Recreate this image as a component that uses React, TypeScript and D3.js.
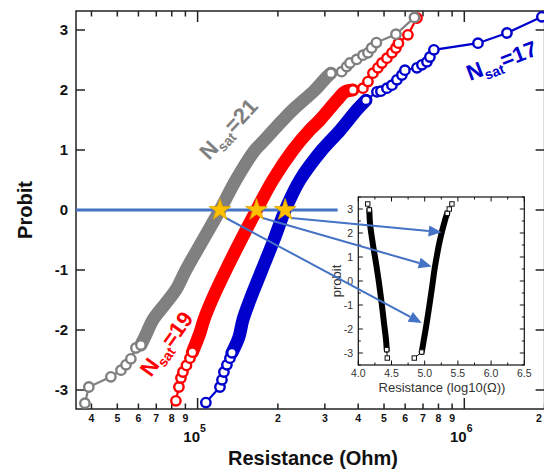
import React from "react";
import * as d3 from "d3";

// ---------- data ----------
// N_sat = 21 (gray)
const grayR = [37800, 39100, 47300, 51600, 53900, 56200, 58700, 61300, 64000, 68000, 76100, 82900, 90400, 104700, 121300, 139200, 164200, 174200, 208800, 227700, 275400, 305300, 316100, 346700, 362000, 372500, 394700, 416700, 435100, 449200, 468200, 554100, 650200];
const grayP = [-3.22, -2.95, -2.78, -2.67, -2.58, -2.48, -2.3, -2.25, -2.08, -1.83, -1.55, -1.33, -1.0, -0.5, 0, 0.5, 1.0, 1.12, 1.5, 1.67, 2.0, 2.22, 2.28, 2.305, 2.39, 2.45, 2.51, 2.58, 2.62, 2.7, 2.79, 2.93, 3.21];
// N_sat = 19 (red)
const redR = [82900, 85100, 86600, 88100, 90800, 93600, 95600, 102000, 105600, 113100, 127700, 145400, 166400, 191500, 227900, 263200, 287500, 333000, 356700, 382200, 416700, 435100, 454300, 474300, 491000, 512700, 535300, 554100, 566200, 614500, 664400];
const redP = [-3.18, -2.95, -2.8, -2.7, -2.59, -2.47, -2.37, -2.05, -1.83, -1.5, -1.0, -0.5, 0, 0.5, 1.0, 1.33, 1.5, 1.83, 1.97, 2.0, 2.03, 2.14, 2.28, 2.37, 2.45, 2.53, 2.62, 2.7, 2.78, 2.92, 3.2];
// N_sat = 17 (blue)
const blueR = [107400, 121300, 123400, 125500, 128800, 132200, 134500, 142800, 147900, 157100, 174200, 193200, 213000, 241900, 292600, 342500, 395700, 427700, 470200, 486700, 512700, 535300, 558900, 583400, 598700, 664400, 693500, 724200, 743000, 769100, 1125000, 1445000, 1954000];
const blueP = [-3.21, -2.95, -2.83, -2.7, -2.58, -2.47, -2.38, -2.12, -1.83, -1.5, -1.0, -0.5, 0, 0.5, 1.0, 1.33, 1.67, 1.83, 1.97, 1.98, 2.03, 2.08, 2.17, 2.25, 2.33, 2.37, 2.42, 2.47, 2.55, 2.67, 2.78, 2.95, 3.22];

// stars at probit 0 (median resistance)
const starR = [121300, 166400, 213000];
const lineEndR = 335000;

// inset (log10 resistance vs probit)
const insetLeftX = [4.142, 4.166, 4.176, 4.217, 4.267, 4.312, 4.352, 4.387, 4.417, 4.428, 4.437];
const insetLeftP = [3.21, 2.96, 2.41, 1.58, 0.74, -0.09, -0.92, -1.75, -2.44, -2.86, -3.21];
const insetRightX = [4.843, 4.955, 4.979, 5.03, 5.105, 5.155, 5.23, 5.306, 5.34, 5.37, 5.41];
const insetRightP = [-3.21, -2.96, -2.58, -1.75, -0.37, 0.6, 1.71, 2.54, 2.82, 3.0, 3.21];
const arrowTargetX = [4.955, 5.105, 5.256];
const arrowTargetP = [-1.75, 0.6, 2.03];

const yTicks = [-3, -2, -1, 0, 1, 2, 3];
const insetXTicks = [4.0, 4.5, 5.0, 5.5, 6.0, 6.5];
const insetYTicks = [-3, -2, -1, 0, 1, 2, 3];

const FONT = "'Liberation Sans', Arial, Helvetica, sans-serif";
const BLUE_LINE = "#4472C4";

export default function App() {
  const x = d3.scaleLog().domain([35000, 2000000]).range([76, 544.6]);
  const y = d3.scaleLinear().domain([-3.3167, 3.3167]).range([409, 11]);
  const L = 76, R = 544.6, T = 11, B = 409;

  const ix = d3.scaleLinear().domain([4, 6.5]).range([358.3, 524.3]);
  const iy = d3.scaleLinear().domain([-3.5, 3.5]).range([365, 197]);

  const line = d3.line<[number, number]>();
  const smooth = d3.line<[number, number]>().curve(d3.curveCatmullRom.alpha(0.5));

  const series = [
    { R: blueR, P: blueP, color: "#0000cc", lo: -2.38, hi: 1.83 },
    { R: redR, P: redP, color: "#ff0000", lo: -2.37, hi: 2.0 },
    { R: grayR, P: grayP, color: "#808080", lo: -2.25, hi: 2.28 },
  ];

  const xt = x.ticks();
  const isDecade = (v: number) => Math.abs(Math.log10(v) - Math.round(Math.log10(v))) < 1e-9;

  const starPath = d3.symbol().type(d3.symbolStar).size(150)() as string;

  const insetMinorX = d3.range(4, 6.5001, 0.25);
  const insetMinorY = d3.range(-3.5, 3.5001, 0.5);

  const insetBranches = [
    { X: insetLeftX, P: insetLeftP, lo: 1, hi: 9 },
    { X: insetRightX, P: insetRightP, lo: 1, hi: 8 },
  ];

  return (
    <div style={{ position: "absolute", left: 0, top: 0 }}>
      <svg width={544} height={472} style={{ display: "block", background: "#fff" }}>
        {/* frame */}
        <rect x={L} y={T} width={R - L} height={B - T} fill="none" stroke="#222" strokeWidth={1.5} />
        {/* x ticks bottom & top */}
        {xt.map((v, i) => {
          const px = x(v);
          const len = isDecade(v) ? 11 : 5.5;
          const lx = px > 538 ? 539 : px;
          return (
            <g key={"xt" + i}>
              <line x1={px} x2={px} y1={B} y2={B - len} stroke="#222" strokeWidth={1.5} />
              <line x1={px} x2={px} y1={T} y2={T + len} stroke="#222" strokeWidth={1.5} />
              {isDecade(v) ? (
                <text x={px - 3} y={441.5} textAnchor="middle" fontFamily={FONT} fontWeight="bold" fontSize={15} fill="#111">
                  10
                  <tspan fontSize={10.5} dy={-10}>{Math.round(Math.log10(v))}</tspan>
                </text>
              ) : (
                <text x={lx} y={421.5} textAnchor="middle" fontFamily={FONT} fontWeight="bold" fontSize={10.5} fill="#111">
                  {String(Math.round(v / Math.pow(10, Math.floor(Math.log10(v)))))}
                </text>
              )}
            </g>
          );
        })}
        {/* y ticks */}
        {yTicks.map((v) => (
          <g key={"yt" + v}>
            <line x1={L} x2={L + 9} y1={y(v)} y2={y(v)} stroke="#222" strokeWidth={1.5} />
            <line x1={R} x2={R - 9} y1={y(v)} y2={y(v)} stroke="#222" strokeWidth={1.5} />
            <text x={68} y={y(v)} dy="0.36em" textAnchor="end" fontFamily={FONT} fontWeight="bold" fontSize={15} fill="#111">
              {String(v)}
            </text>
          </g>
        ))}
        {/* axis titles */}
        <text x={313} y={465} textAnchor="middle" fontFamily={FONT} fontWeight="bold" fontSize={20} fill="#111">
          Resistance (Ohm)
        </text>
        <text transform="translate(32,210) rotate(-90)" textAnchor="middle" fontFamily={FONT} fontWeight="bold" fontSize={20} fill="#111">
          Probit
        </text>

        {/* series */}
        {series.map((s, si) => {
          const pts: [number, number][] = s.R.map((r, i) => [x(r), y(s.P[i])]);
          const band = pts.filter((_, i) => s.P[i] >= s.lo && s.P[i] <= s.hi);
          const tails = pts.filter((_, i) => s.P[i] <= s.lo || s.P[i] >= s.hi);
          return (
            <g key={"s" + si}>
              <path d={line(pts) as string} fill="none" stroke={s.color} strokeWidth={2.2} />
              <path d={smooth(band) as string} fill="none" stroke={s.color} strokeWidth={13} strokeLinecap="round" strokeLinejoin="round" />
              {tails.map((p, i) => (
                <circle key={i} cx={p[0]} cy={p[1]} r={4.7} fill="#fff" stroke={s.color} strokeWidth={2.4} />
              ))}
            </g>
          );
        })}

        {/* horizontal line at probit 0 */}
        <line x1={x(35000)} x2={x(lineEndR)} y1={y(0)} y2={y(0)} stroke={BLUE_LINE} strokeWidth={3} />

        {/* labels */}
        <text transform="translate(209,161) rotate(-47)" fontFamily={FONT} fontWeight="bold" fontSize={22} fill="#808080">
          N<tspan fontSize={14} dy={5}>sat</tspan><tspan dy={-5}>=21</tspan>
        </text>
        <text transform="translate(151,378) rotate(-54)" fontFamily={FONT} fontWeight="bold" fontSize={22} fill="#ff0000">
          N<tspan fontSize={14} dy={5}>sat</tspan><tspan dy={-5}>=19</tspan>
        </text>
        <text transform="translate(470,81) rotate(-21)" fontFamily={FONT} fontWeight="bold" fontSize={22} fill="#0000cc">
          N<tspan fontSize={14} dy={5}>sat</tspan><tspan dy={-5}>=17</tspan>
        </text>

        {/* inset */}
        <g>
          <rect x={ix(4)} y={iy(3.5)} width={ix(6.5) - ix(4)} height={iy(-3.5) - iy(3.5)} fill="#fff" stroke="#111" strokeWidth={1.2} />
          {insetMinorX.map((v, i) => {
            const major = Math.abs(v * 2 - Math.round(v * 2)) < 1e-6;
            const len = major ? 4.5 : 2.5;
            return (
              <g key={"ixm" + i}>
                <line x1={ix(v)} x2={ix(v)} y1={iy(-3.5)} y2={iy(-3.5) - len} stroke="#111" />
                <line x1={ix(v)} x2={ix(v)} y1={iy(3.5)} y2={iy(3.5) + len} stroke="#111" />
              </g>
            );
          })}
          {insetMinorY.map((v, i) => {
            const major = Math.abs(v - Math.round(v)) < 1e-6;
            const len = major ? 4.5 : 2.5;
            return (
              <g key={"iym" + i}>
                <line x1={ix(4)} x2={ix(4) + len} y1={iy(v)} y2={iy(v)} stroke="#111" />
                <line x1={ix(6.5)} x2={ix(6.5) - len} y1={iy(v)} y2={iy(v)} stroke="#111" />
              </g>
            );
          })}
          {insetXTicks.map((v) => (
            <text key={"ixl" + v} x={ix(v)} y={376.5} textAnchor="middle" fontFamily={FONT} fontSize={10.5} fill="#333">
              {v.toFixed(1)}
            </text>
          ))}
          {insetYTicks.map((v) => (
            <text key={"iyl" + v} x={353} y={iy(v)} dy="0.36em" textAnchor="end" fontFamily={FONT} fontSize={10.5} fill="#333">
              {String(v)}
            </text>
          ))}
          <text x={442} y={392} textAnchor="middle" fontFamily={FONT} fontSize={13} fill="#333">
            Resistance (log10(Ω))
          </text>
          <text transform="translate(341,281) rotate(-90)" textAnchor="middle" fontFamily={FONT} fontSize={13} fill="#333">
            probit
          </text>
          {insetBranches.map((b, bi) => {
            const pts: [number, number][] = b.X.map((v, i) => [ix(v), iy(b.P[i])]);
            const band = pts.slice(b.lo, b.hi + 1);
            const tails = pts.filter((_, i) => i <= b.lo || i >= b.hi);
            return (
              <g key={"ib" + bi}>
                <path d={line(pts) as string} fill="none" stroke="#111" strokeWidth={1} />
                <path d={smooth(band) as string} fill="none" stroke="#000" strokeWidth={6} strokeLinecap="round" strokeLinejoin="round" />
                {tails.map((p, i) => (
                  <rect key={i} x={p[0] - 2.2} y={p[1] - 2.2} width={4.4} height={4.4} fill="#fff" stroke="#111" strokeWidth={1} />
                ))}
              </g>
            );
          })}
        </g>

        {/* arrows from stars to inset */}
        {starR.map((r, i) => {
          const sx = x(r) + 6, sy = y(0) + 8;
          const tx = ix(arrowTargetX[i]), ty = iy(arrowTargetP[i]);
          const ang = Math.atan2(ty - sy, tx - sx);
          const hl = 13, hw = 5.5;
          const bx = tx - hl * Math.cos(ang), by = ty - hl * Math.sin(ang);
          const px = -Math.sin(ang), py = Math.cos(ang);
          return (
            <g key={"ar" + i}>
              <line x1={sx} y1={sy} x2={bx} y2={by} stroke={BLUE_LINE} strokeWidth={2} />
              <polygon points={`${tx},${ty} ${bx + px * hw},${by + py * hw} ${bx - px * hw},${by - py * hw}`} fill={BLUE_LINE} />
            </g>
          );
        })}

        {/* stars */}
        {starR.map((r, i) => (
          <path key={"st" + i} d={starPath} transform={`translate(${x(r)},${y(0)})`} fill="#FFC000" stroke="#D9A400" strokeWidth={0.8} />
        ))}
      </svg>
    </div>
  );
}
